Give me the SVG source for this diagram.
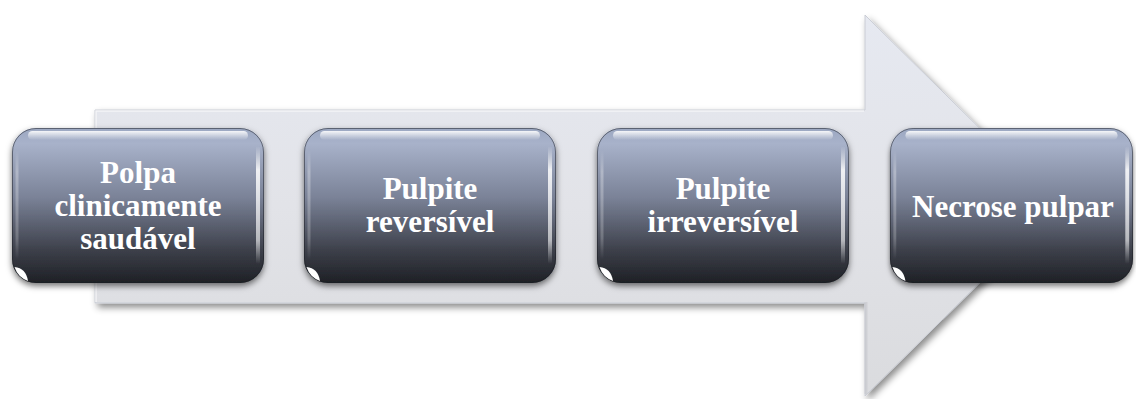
<svg xmlns="http://www.w3.org/2000/svg" xmlns:xlink="http://www.w3.org/1999/xlink" width="1136" height="399" viewBox="0 0 1136 399">
  <style>
    .lbl { font-weight: 700; font-size: 31px; fill: #ffffff; text-anchor: middle; }
  </style>
  <defs>
    <linearGradient id="arrowFill" gradientUnits="userSpaceOnUse" x1="0" y1="15" x2="0" y2="396">
      <stop offset="0" stop-color="#e6e9f1"/>
      <stop offset="0.5" stop-color="#e2e3e8"/>
      <stop offset="1" stop-color="#dadbde"/>
    </linearGradient>
    <linearGradient id="boxFill" x1="0" y1="0" x2="0" y2="1">
      <stop offset="0" stop-color="#9ca8c2"/>
      <stop offset="0.1" stop-color="#a8b2ca"/>
      <stop offset="0.45" stop-color="#7a8297"/>
      <stop offset="0.8" stop-color="#3b3e48"/>
      <stop offset="1" stop-color="#1e2025"/>
    </linearGradient>
    <linearGradient id="topGloss" x1="0" y1="0" x2="0" y2="1">
      <stop offset="0" stop-color="#ffffff" stop-opacity="0.9"/>
      <stop offset="1" stop-color="#ffffff" stop-opacity="0"/>
    </linearGradient>
    <linearGradient id="sideGloss" x1="0" y1="0" x2="0" y2="1">
      <stop offset="0" stop-color="#ffffff" stop-opacity="0"/>
      <stop offset="0.2" stop-color="#ffffff" stop-opacity="0.85"/>
      <stop offset="0.8" stop-color="#ffffff" stop-opacity="0.6"/>
      <stop offset="1" stop-color="#ffffff" stop-opacity="0"/>
    </linearGradient>
    <filter id="arrowShadow" x="-5%" y="-5%" width="115%" height="115%">
      <feDropShadow dx="3" dy="4" stdDeviation="3.5" flood-color="#000000" flood-opacity="0.45"/>
    </filter>
    <filter id="boxShadow" x="-10%" y="-10%" width="120%" height="130%">
      <feDropShadow dx="0" dy="3" stdDeviation="3" flood-color="#000000" flood-opacity="0.55"/>
    </filter>
    <filter id="soft" x="-30%" y="-30%" width="160%" height="160%">
      <feGaussianBlur stdDeviation="0.7"/>
    </filter>
    <g id="boxShape">
      <rect x="0" y="0" width="252" height="155" rx="24" fill="url(#boxFill)" filter="url(#boxShadow)"/>
      <rect x="0.5" y="0.5" width="251" height="154" rx="23.5" fill="none" stroke="#1a1c21" stroke-opacity="0.5"/>
      <rect x="16" y="3" width="220" height="9" rx="4.5" fill="url(#topGloss)" filter="url(#soft)"/>
      <rect x="244" y="18" width="4" height="118" rx="2" fill="url(#sideGloss)" filter="url(#soft)"/>
      <rect x="3.5" y="22" width="3" height="110" rx="1.5" fill="url(#sideGloss)" opacity="0.35" filter="url(#soft)"/>
      <path d="M2.5,139 A22.5,22.5 0 0 0 16,153 Q14,140 2.5,139 Z" fill="#ffffff" filter="url(#soft)"/>
    </g>
  </defs>

  <g id="connectors">
    <polygon id="progress-arrow" points="95,110 865,110 865,15 1058,205.5 865,396 865,303 95,303" fill="url(#arrowFill)" stroke="#c9ccd4" stroke-width="1" filter="url(#arrowShadow)"/>
    <polyline points="96,302 96,111 864,111" fill="none" stroke="#ffffff" stroke-opacity="0.6" stroke-width="1.5"/>
    <polyline points="866,302 866,394" fill="none" stroke="#c4c6cc" stroke-width="3" stroke-opacity="0.6"/>
  </g>

  <g id="node-1" font-family="Liberation Serif, Times New Roman, DejaVu Serif, serif">
    <use xlink:href="#boxShape" href="#boxShape" x="12" y="128"/>
    <text class="lbl" x="138" y="183">Polpa</text>
    <text class="lbl" x="138" y="216">clinicamente</text>
    <text class="lbl" x="138" y="249">saudável</text>
  </g>

  <g id="node-2" font-family="Liberation Serif, Times New Roman, DejaVu Serif, serif">
    <use xlink:href="#boxShape" href="#boxShape" x="304" y="128"/>
    <text class="lbl" x="430" y="199">Pulpite</text>
    <text class="lbl" x="430" y="232">reversível</text>
  </g>

  <g id="node-3" font-family="Liberation Serif, Times New Roman, DejaVu Serif, serif">
    <use xlink:href="#boxShape" href="#boxShape" x="597" y="128"/>
    <text class="lbl" x="723" y="199">Pulpite</text>
    <text class="lbl" x="723" y="232">irreversível</text>
  </g>

  <g id="node-4" font-family="Liberation Serif, Times New Roman, DejaVu Serif, serif">
    <use xlink:href="#boxShape" href="#boxShape" transform="translate(890,128) scale(0.9643,1)"/>
    <text class="lbl" x="1013" y="217">Necrose pulpar</text>
  </g>
</svg>
